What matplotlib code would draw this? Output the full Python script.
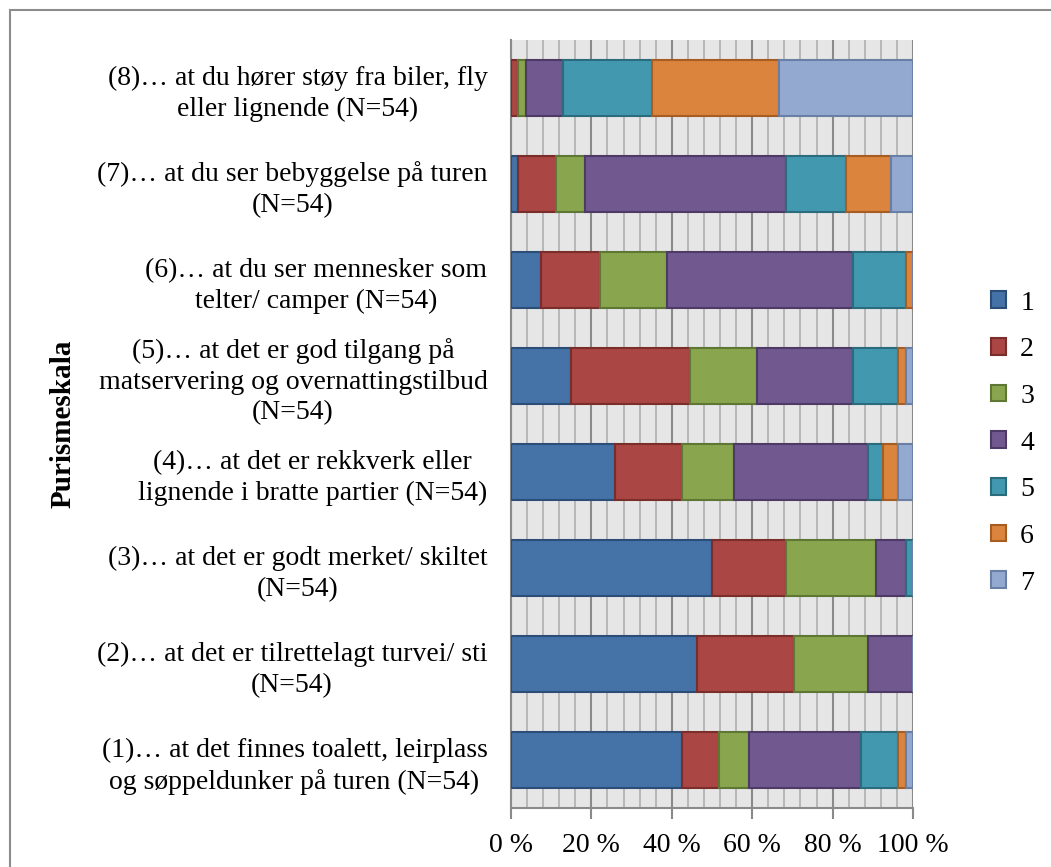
import numpy as np
import matplotlib.pyplot as plt
from matplotlib.patches import Rectangle

plt.rcParams['font.family'] = ['Liberation Serif', 'DejaVu Serif']

# answer counts per item (N=54), scale 1..7
categories = [
    "(1)\u2026 at det finnes toalett, leirplass\nog søppeldunker på turen (N=54)",
    "(2)\u2026 at det er tilrettelagt turvei/ sti\n(N=54)",
    "(3)\u2026 at det er godt merket/ skiltet\n(N=54)",
    "(4)\u2026 at det er rekkverk eller\nlignende i bratte partier (N=54)",
    "(5)\u2026 at det er god tilgang på\nmatservering og overnattingstilbud\n(N=54)",
    "(6)\u2026 at du ser mennesker som\ntelter/ camper (N=54)",
    "(7)\u2026 at du ser bebyggelse på turen\n(N=54)",
    "(8)\u2026 at du hører støy fra biler, fly\neller lignende (N=54)",
]
N = 54
s1 = [23, 25, 27, 14, 8, 4, 1, 0]
s2 = [5, 13, 10, 9, 16, 8, 5, 1]
s3 = [4, 10, 12, 7, 9, 9, 4, 1]
s4 = [15, 6, 4, 18, 13, 25, 27, 5]
s5 = [5, 0, 1, 2, 6, 7, 8, 12]
s6 = [1, 0, 0, 2, 1, 1, 6, 17]
s7 = [1, 0, 0, 2, 1, 0, 3, 18]
series = [s1, s2, s3, s4, s5, s6, s7]
series_names = ["1", "2", "3", "4", "5", "6", "7"]
x_ticks = [0, 20, 40, 60, 80, 100]
x_ticklabels = ["0 %", "20 %", "40 %", "60 %", "80 %", "100 %"]

colors = ["#4572A7", "#AA4643", "#89A54E", "#71588F", "#4198AF", "#DB843D", "#93A9CF"]
edges = ["#2c4d76", "#7a2e2c", "#5f7734", "#4d3a66", "#2a6b7c", "#a55d22", "#6a7fa5"]

fs = 20

fig = plt.figure(figsize=(10.51, 8.67), dpi=100)
ax = fig.add_axes([511/1051, 1 - 808/867, (913-511)/1051, (808-40)/867])

y = np.arange(len(categories))
left = np.zeros(len(categories))
for vals, name, c, ec in zip(series, series_names, colors, edges):
    pct = np.array(vals) / N * 100
    ax.barh(y, pct, left=left, height=0.58, color=c, edgecolor=ec,
            linewidth=1.5, label=name, zorder=3)
    left += pct

ax.set_xlim(0, 100)
ax.set_ylim(-0.5, 7.5)
ax.set_facecolor("#e6e6e6")

# grid: minor every 4 %, major every 20 %
ax.set_xticks(x_ticks)
ax.set_xticks(np.arange(0, 101, 4), minor=True)
ax.grid(which="minor", axis="x", color="#b4b4b4", linewidth=1.3, zorder=1)
ax.grid(which="major", axis="x", color="#8a8a8a", linewidth=1.5, zorder=1)
ax.set_axisbelow(True)
ax.set_xticklabels(x_ticklabels, fontsize=fs)
ax.tick_params(axis="x", which="major", length=8, width=1.5, color="#8a8a8a", pad=10)
ax.tick_params(axis="x", which="minor", length=0)

ax.set_yticks(y)
ax.set_yticklabels(categories, fontsize=fs, multialignment="center", linespacing=1.3)
ax.tick_params(axis="y", length=0, pad=17)

for s in ["top", "right"]:
    ax.spines[s].set_visible(False)
ax.spines["left"].set_color("#8a8a8a")
ax.spines["bottom"].set_color("#8a8a8a")
ax.spines["left"].set_linewidth(1.5)
ax.spines["bottom"].set_linewidth(1.5)

fig.text(63/1051, 1 - 424/867, "Purismeskala", rotation=90, fontsize=21,
         fontweight="bold", ha="center", va="center")

ax.legend(loc="center left", bbox_to_anchor=(991/1051, 1 - 443/867),
          bbox_transform=fig.transFigure, frameon=False, fontsize=fs,
          handlelength=0.55, handleheight=0.55, labelspacing=0.78,
          handletextpad=0.5, borderpad=0, borderaxespad=0)

fig.patches.append(Rectangle((10/1051, -0.1), 1.2, 1 - 10/867 + 0.1,
                             transform=fig.transFigure, fill=False,
                             edgecolor="#8c8c8c", linewidth=1.5))

fig.savefig("out.png", dpi=100)
